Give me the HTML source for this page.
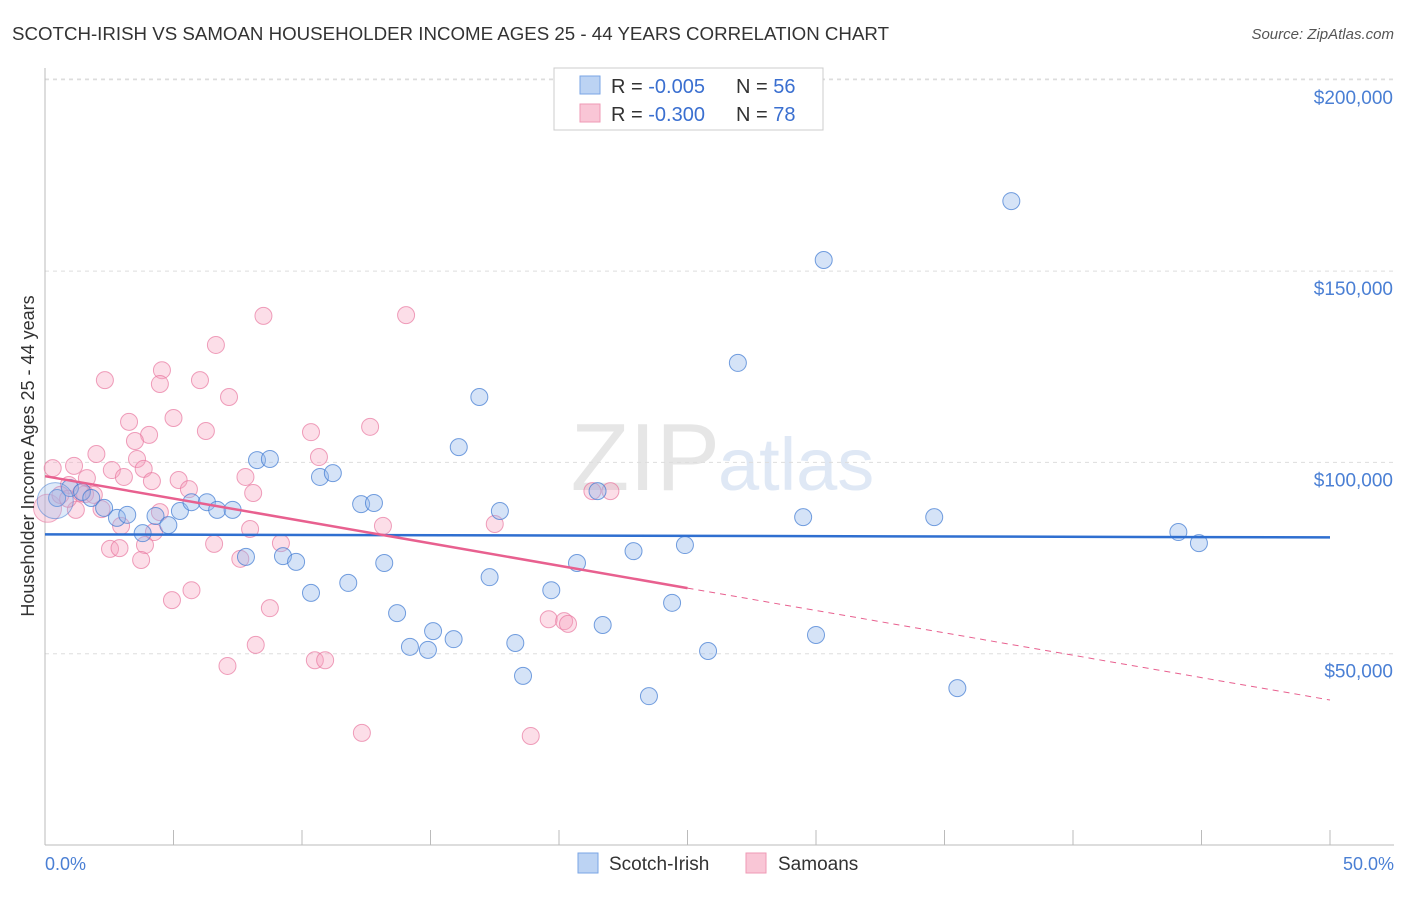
<!DOCTYPE html>
<html><head><meta charset="utf-8"><style>
body{margin:0;background:#fff;font-family:"Liberation Sans",sans-serif;}
svg text{font-family:"Liberation Sans",sans-serif;}
</style></head><body>
<svg id="chart" width="1406" height="892" viewBox="0 0 1406 892">
<text x="12" y="40" font-size="18" fill="#333" textLength="877" lengthAdjust="spacingAndGlyphs">SCOTCH-IRISH VS SAMOAN HOUSEHOLDER INCOME AGES 25 - 44 YEARS CORRELATION CHART</text>
<text x="1394" y="39" font-size="15" fill="#555" font-style="italic" text-anchor="end">Source: ZipAtlas.com</text>
<text x="720" y="490" font-size="96" fill="#e6e6e6" text-anchor="end" font-family="Liberation Serif">ZIP</text>
<text x="718" y="490" font-size="74" fill="#dfe8f5">atlas</text>
<g id="grid"></g><g id="axes"></g><g id="pts"></g><g id="lines"></g>
<text transform="translate(34,456) rotate(-90)" font-size="18" fill="#333" text-anchor="middle">Householder Income Ages 25 - 44 years</text>
<text x="45" y="870" font-size="18" fill="#4a7fd4">0.0%</text>
<text x="1394" y="870" font-size="18" fill="#4a7fd4" text-anchor="end">50.0%</text>
<g>
<rect x="554" y="68" width="269" height="62" fill="#fff" stroke="#ccc"/>
<rect x="580" y="76" width="20" height="18" fill="#bcd3f3" stroke="#7aa6e6"/>
<rect x="580" y="104" width="20" height="18" fill="#f9c6d6" stroke="#ef9ab5"/>
<text x="611" y="93" font-size="20" fill="#333">R = <tspan fill="#3a6fd0">-0.005</tspan></text>
<text x="736" y="93" font-size="20" fill="#333">N = <tspan fill="#3a6fd0">56</tspan></text>
<text x="611" y="121" font-size="20" fill="#333">R = <tspan fill="#3a6fd0">-0.300</tspan></text>
<text x="736" y="121" font-size="20" fill="#333">N = <tspan fill="#3a6fd0">78</tspan></text>
</g>
<g>
<rect x="578" y="853" width="20" height="20" fill="#bcd3f3" stroke="#7aa6e6"/>
<text x="609" y="870" font-size="19" fill="#333">Scotch-Irish</text>
<rect x="746" y="853" width="20" height="20" fill="#f9c6d6" stroke="#ef9ab5"/>
<text x="778" y="870" font-size="19" fill="#333">Samoans</text>
</g>
</svg>
<script>
const yTicks=[50000,100000,150000,200000];
const yTickLabels=["$50,000","$100,000","$150,000","$200,000"];
const blueX=[37.6,30.3,26.96,16.9,16.1,8.25,8.75,10.7,11.2,12.3,12.8,17.7,21.5,29.5,34.6,44.1,44.9,24.9,22.9,20.7,13.2,9.26,9.77,7.82,17.3,11.8,19.7,10.35,24.4,13.7,21.7,15.1,15.9,14.2,14.9,18.3,25.8,30.0,18.6,23.5,35.5,0.47,0.97,1.44,1.8,2.3,2.8,3.2,3.8,4.3,4.8,5.25,5.7,6.3,6.7,7.3];
const blueY=[168.3,152.9,126.0,117.1,104.0,100.6,100.9,96.2,97.2,89.1,89.4,87.3,92.5,85.7,85.7,81.8,78.9,78.4,76.8,73.7,73.7,75.5,74.0,75.3,70.0,68.5,66.6,65.9,63.3,60.6,57.5,55.9,53.8,51.8,51.0,52.8,50.7,54.9,44.2,38.9,41.0,90.7,93.3,92.3,90.7,88.1,85.5,86.3,81.5,86.0,83.6,87.3,89.6,89.6,87.6,87.6];
const pinkX=[8.5,14.05,6.65,4.55,2.33,4.47,6.03,7.16,3.27,5.0,4.05,3.5,6.26,10.35,12.65,2.0,3.58,10.66,1.13,0.3,2.6,3.84,1.63,3.07,4.16,5.2,7.8,5.6,0.93,1.56,8.1,21.3,22.0,2.2,1.2,4.47,2.96,13.15,17.5,7.98,4.24,6.58,9.18,3.89,2.53,2.9,7.6,3.74,5.7,4.94,8.75,19.6,20.2,20.35,8.2,10.5,10.9,7.1,12.33,18.9,0.6,1.9,0.9,1.4];
const pinkY=[138.3,138.5,130.7,124.1,121.5,120.5,121.5,117.1,110.6,111.6,107.2,105.6,108.2,107.9,109.3,102.2,100.9,101.4,99.1,98.5,98.0,98.3,95.9,96.2,95.1,95.4,96.2,93.0,94.1,91.7,92.0,92.5,92.5,87.8,87.6,87.0,83.4,83.4,83.9,82.6,81.8,78.7,78.9,78.4,77.4,77.6,74.8,74.5,66.6,64.0,61.9,59.0,58.5,57.8,52.3,48.3,48.3,46.8,29.3,28.5,91.5,91.5,90.5,92.0];
const blueTrend=[81.2,80.4];
const pinkTrend=[96.4,37.9];
const pinkSolidEnd=25;
const NS="http://www.w3.org/2000/svg";
const xs=p=>45+p*25.7, ys=k=>845-k*1000*0.003826;
function mk(t,a,parent){const e=document.createElementNS(NS,t);for(const k in a)e.setAttribute(k,a[k]);document.getElementById(parent).appendChild(e);return e;}
yTicks.forEach((v,i)=>{
 const g=mk('line',{x1:45,x2:1394,y1:ys(v/1000),y2:ys(v/1000),stroke:'#ddd','stroke-dasharray':'4,4'},'grid');
 
 
 const t=mk('text',{x:1393,y:ys(v/1000)+24,'font-size':19,fill:'#4a7fd4','text-anchor':'end'},'grid');
 t.textContent=yTickLabels[i];
 
 
});
const gl=mk('line',{x1:45,x2:1394,y1:79,y2:79,stroke:'#ddd','stroke-dasharray':'4,4'},'grid');
const ax=mk('line',{x1:45,x2:45,y1:68,y2:845,stroke:'#bbb'},'axes');


const bx=mk('line',{x1:45,x2:1394,y1:845,y2:845,stroke:'#bbb'},'axes');


for(let i=0;i<=10;i++){const t=mk('line',{x1:xs(i*5),x2:xs(i*5),y1:830,y2:845,stroke:'#bbb'},'axes');
 
 }
const bigp=mk('circle',{cx:xs(0.1),cy:ys(88),r:14,fill:'rgba(245,160,190,0.35)',stroke:'rgba(232,120,160,0.6)'},'pts');


pinkX.forEach((x,i)=>{const c=mk('circle',{cx:xs(x),cy:ys(pinkY[i]),r:8.5,fill:'rgba(245,160,190,0.35)',stroke:'rgba(232,120,160,0.7)','stroke-width':1},'pts');
 
 });
blueX.forEach((x,i)=>{const c=mk('circle',{cx:xs(x),cy:ys(blueY[i]),r:8.5,fill:'rgba(150,185,235,0.4)',stroke:'rgba(60,120,210,0.7)','stroke-width':1},'pts');
 
 });
const big=mk('circle',{cx:xs(0.4),cy:ys(90),r:18,fill:'rgba(150,185,235,0.3)',stroke:'rgba(60,120,210,0.5)'},'pts');


const bl=mk('line',{x1:xs(0),x2:xs(50),y1:ys(blueTrend[0]),y2:ys(blueTrend[1]),stroke:'#2f6fd0','stroke-width':2.5},'lines');


const pv=x=>pinkTrend[0]+(pinkTrend[1]-pinkTrend[0])*x/50;
const pl=mk('line',{x1:xs(0),x2:xs(pinkSolidEnd),y1:ys(pv(0)),y2:ys(pv(pinkSolidEnd)),stroke:'#e8608f','stroke-width':2.5},'lines');


const pd=mk('line',{x1:xs(pinkSolidEnd),x2:xs(50),y1:ys(pv(pinkSolidEnd)),y2:ys(pv(50)),stroke:'#e8608f','stroke-width':1,'stroke-dasharray':'6,5'},'lines');


</script>
</body></html>
